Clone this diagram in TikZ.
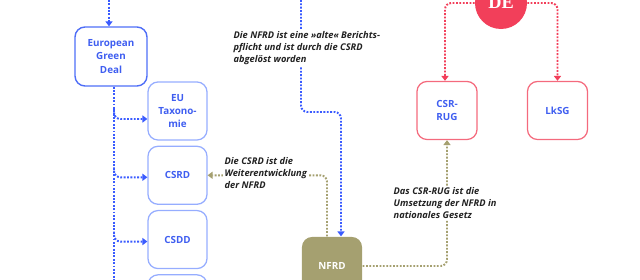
\documentclass[tikz,border=0pt]{standalone}
\usepackage{fontspec}
\setmainfont{Open Sans}
\newfontfamily\defont{Liberation Serif}
\usepackage{tikz}
\usetikzlibrary{arrows.meta,positioning,calc}
\definecolor{lineblue}{HTML}{3A5BFF}
\definecolor{egdblue}{HTML}{4F6EF7}
\definecolor{subblue}{HTML}{96ADFF}
\definecolor{textblue}{HTML}{3F5EF0}
\definecolor{dered}{HTML}{F23F5A}
\definecolor{boxred}{HTML}{F46A7D}
\definecolor{nfrdolive}{HTML}{A5A070}
\definecolor{notegray}{HTML}{222222}

\begin{document}
\begin{tikzpicture}[
  x=0.025cm, y=-0.025cm,
  bluebox/.style={draw=egdblue, line width=1pt, rounded corners=0.25cm, align=center, text=textblue, font=\fontsize{7}{9.5}\selectfont\bfseries, minimum width=1.8cm, minimum height=1.475cm, inner sep=1pt},
  subbox/.style={bluebox, draw=subblue, line width=0.9pt, minimum width=1.475cm, minimum height=1.45cm},
  redbox/.style={subbox, draw=boxred, minimum width=1.5cm},
  nfrdbox/.style={subbox, draw=none, fill=nfrdolive, text=white, minimum width=1.5cm},
  note/.style={fill=white, align=left, font=\fontsize{6.6}{8.6}\selectfont\bfseries\itshape, text=notegray, inner sep=1pt},
  dotline/.style={line width=1.4pt, dash pattern=on 1.3pt off 1.1pt, rounded corners=0.16cm},
  blueline/.style={dotline, draw=lineblue},
  bluearrow/.style={blueline, -{Triangle[width=5pt,length=3.5pt]}},
  redarrow/.style={dotline, draw=dered, -{Triangle[width=5pt,length=3.5pt]}},
  olivearrow/.style={dotline, draw=nfrdolive, -{Triangle[width=5pt,length=3.5pt]}}
]
\useasboundingbox (0,0) rectangle (640,280);
\clip (0,0) rectangle (640,280);

% EU side
\node[bluebox] (egd) at (111,56.5) {European\\Green\\Deal};
\node[subbox] (tax) at (177.5,111) {EU\\Taxono-\\mie};
\node[subbox, below=0.125cm of tax] (csrd) {CSRD};
\node[subbox, below=0.125cm of csrd] (csdd) {CSDD};
\node[subbox, below=0.125cm of csdd] (more) {};
\node[nfrdbox] (nfrd) at (332,266) {NFRD};

% DE side
\node[circle, fill=dered, minimum size=1.3cm, text=white, font=\defont\fontsize{13}{13}\selectfont\bfseries] (de) at (501,3) {\raisebox{-2.5pt}{DE}};
\node[redbox] (rug) at (447,110.5) {CSR-\\RUG};
\node[redbox] (lksg) at (557.5,110.5) {LkSG};

\coordinate (egdtop) at (109,0);
\coordinate (spine) at ([xshift=0.075cm]egd.south);
\coordinate (spineend) at (spine |- 0,285);
\coordinate (nfrdtop) at (301,0);

\draw[bluearrow] (egdtop) -- (egdtop |- egd.north);
\draw[blueline] (spine) -- (spineend);
\foreach \b/\dy in {tax/8,csrd/2,csdd/2}
  \draw[bluearrow] ($(spine |- \b.west)+(0,\dy-10)$) |- ($(\b.west)+(0,\dy)$);
\draw[bluearrow] (nfrdtop) -- ++(0,112) -| ($(nfrd.north)+(9,0)$);
\draw[olivearrow] ($(nfrd.north)+(-5,0)$) |- (csrd.east);
\draw[olivearrow] (nfrd.east) -| (rug.south);
\draw[redarrow] (de.west) -| ($(rug.north)+(-2,0)$);
\draw[redarrow] (de.east) -| (lksg.north);

% notes
\node[note, anchor=west] (nfrdnote) at (232,48) {Die NFRD ist eine »alte« Berichts-\\pflicht und ist durch die CSRD\\abgelöst worden};
\node[note, anchor=west] (csrdnote) at (223,173) {Die CSRD ist die\\Weiterentwicklung\\der NFRD};
\node[note, anchor=west] (rugnote) at (392,203) {Das CSR-RUG ist die\\Umsetzung der NFRD in\\nationales Gesetz};
\end{tikzpicture}
\end{document}
